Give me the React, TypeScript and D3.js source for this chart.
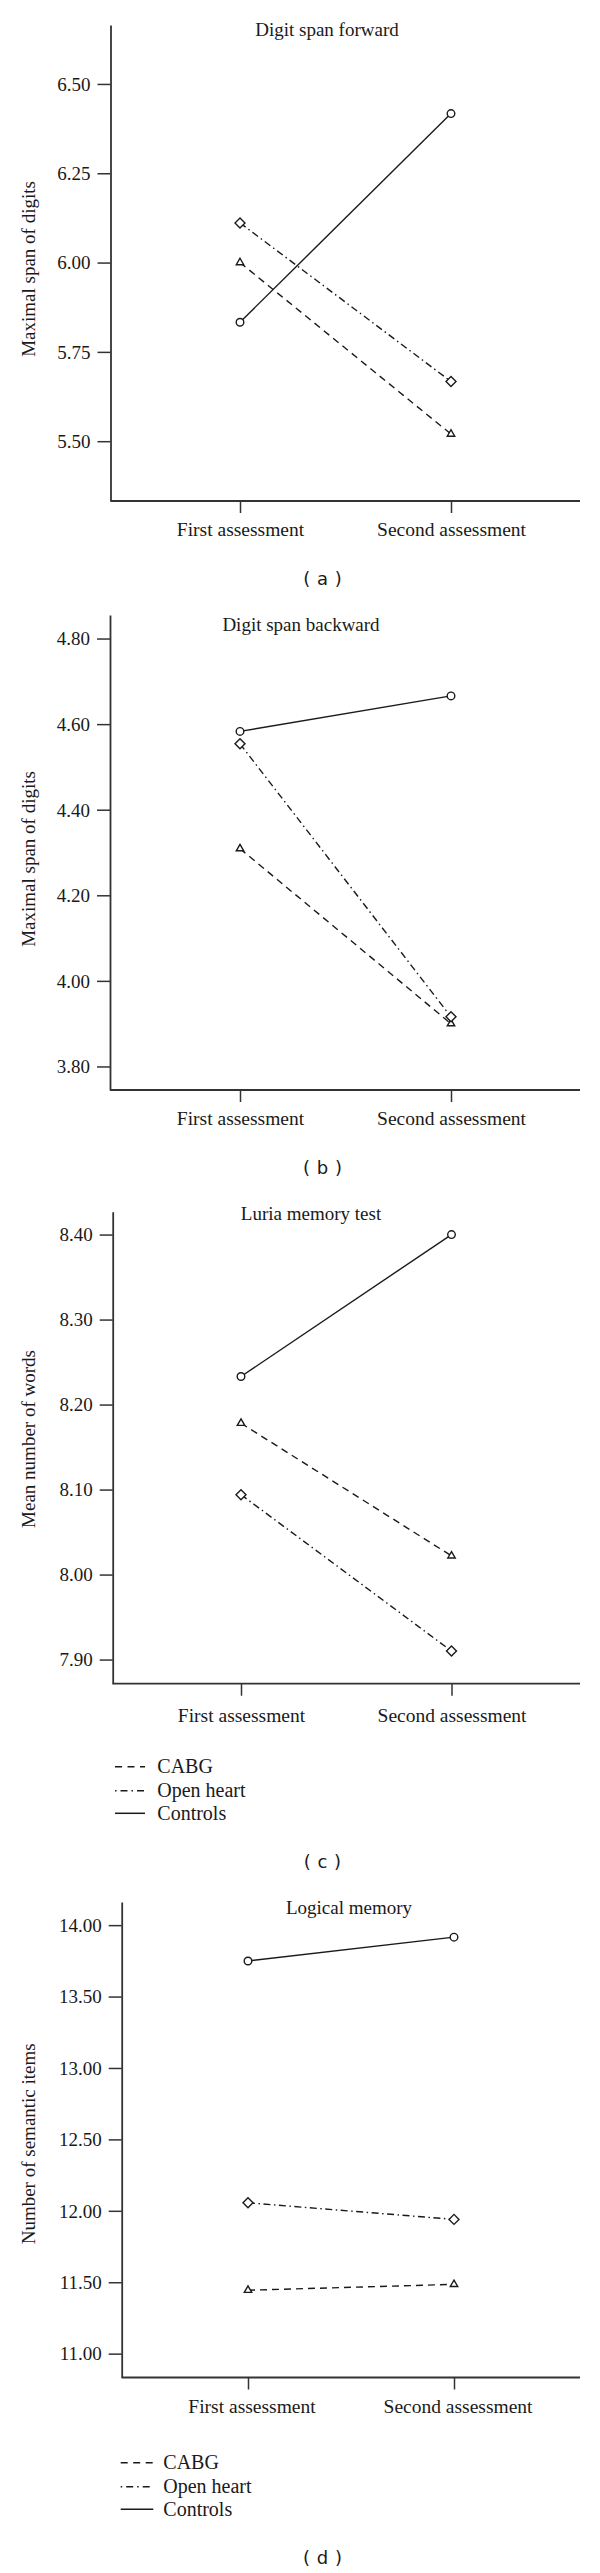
import React, { useEffect, useRef } from "react";
import * as d3 from "d3";

// ---------- data ----------
const categories = ["First assessment", "Second assessment"];
const seriesNames = ["CABG", "Open heart", "Controls"];

const forwardCABG = [6.0, 5.52];
const forwardOpenHeart = [6.111, 5.667];
const forwardControls = [5.833, 6.417];
const forwardTicks = [5.5, 5.75, 6.0, 6.25, 6.5];

const backwardCABG = [4.309, 3.9];
const backwardOpenHeart = [4.554, 3.916];
const backwardControls = [4.583, 4.666];
const backwardTicks = [3.8, 4.0, 4.2, 4.4, 4.6, 4.8];

const luriaCABG = [8.178, 8.022];
const luriaOpenHeart = [8.094, 7.91];
const luriaControls = [8.233, 8.4];
const luriaTicks = [7.9, 8.0, 8.1, 8.2, 8.3, 8.4];

const logicalCABG = [11.444, 11.485];
const logicalOpenHeart = [12.056, 11.94];
const logicalControls = [13.749, 13.916];
const logicalTicks = [11.0, 11.5, 12.0, 12.5, 13.0, 13.5, 14.0];

const titles = ["Digit span forward", "Digit span backward", "Luria memory test", "Logical memory"];
const yLabels = ["Maximal span of digits", "Maximal span of digits", "Mean number of words", "Number of semantic items"];
const captions = ["( a )", "( b )", "( c )", "( d )"];

// ---------- layout / style ----------
const W = 600;
const H = 2573;
const INK = "#1a1a1a";
const AXIS = "#333";
const SERIF = "'Liberation Serif', 'Times New Roman', serif";

const seriesStyle = [
  { dash: "7,5", symbol: "triangle" },
  { dash: "7,3.5,1.5,3.5", symbol: "diamond" },
  { dash: null, symbol: "circle" },
];
const legendDash = ["7,5.5", "1.5,4,7,4", null];

const panels = [
  {
    values: [forwardCABG, forwardOpenHeart, forwardControls], ticks: forwardTicks,
    domain: [5.3326, 6.665], box: { left: 110.5, right: 580, top: 25, bottom: 501 },
    cats: [240, 451], titlePos: [327, 30], yLabelY: 269, xLabelY: 530, xLabelDx: 0,
    captionY: 578.5, legend: null,
  },
  {
    values: [backwardCABG, backwardOpenHeart, backwardControls], ticks: backwardTicks,
    domain: [3.745, 4.855], box: { left: 110, right: 580, top: 615, bottom: 1090 },
    cats: [240, 451], titlePos: [301, 625], yLabelY: 859, xLabelY: 1119, xLabelDx: 0,
    captionY: 1167.5, legend: null,
  },
  {
    values: [luriaCABG, luriaOpenHeart, luriaControls], ticks: luriaTicks,
    domain: [7.8716, 8.4269], box: { left: 112.7, right: 580, top: 1211.7, bottom: 1683.7 },
    cats: [241, 451.5], titlePos: [311, 1214], yLabelY: 1439, xLabelY: 1715.5, xLabelDx: 0,
    captionY: 1862.4, legend: { x0: 115, x1: 145, tx: 157.3, rows: [1766.7, 1790.7, 1813.3] },
  },
  {
    values: [logicalCABG, logicalOpenHeart, logicalControls], ticks: logicalTicks,
    domain: [10.833, 14.162], box: { left: 121.7, right: 580, top: 1902, bottom: 2377.5 },
    cats: [248, 454], titlePos: [349, 1908.7], yLabelY: 2143.8, xLabelY: 2406.7, xLabelDx: 3.5,
    captionY: 2558.3, legend: { x0: 120.7, x1: 153.3, tx: 163.3, rows: [2462.7, 2486.7, 2509.3] },
  },
];

export default function App() {
  const ref = useRef<SVGSVGElement | null>(null);

  useEffect(() => {
    const svg = d3.select(ref.current);
    svg.selectAll("*").remove();

    panels.forEach((p, pi) => {
      const g = svg.append("g");
      const x = d3.scalePoint<string>().domain(categories).range(p.cats as [number, number]);
      const y = d3.scaleLinear().domain(p.domain).range([p.box.bottom, p.box.top]);

      // y axis
      const yAxis = d3
        .axisLeft(y)
        .tickValues(p.ticks)
        .tickFormat(d3.format(".2f") as any)
        .tickSize(13)
        .tickSizeOuter(0)
        .tickPadding(7);
      const yg = g.append("g").attr("transform", `translate(${p.box.left},0)`).call(yAxis as any);
      yg.attr("font-family", SERIF).attr("font-size", 19);
      yg.select(".domain").attr("stroke", AXIS).attr("stroke-width", 1.8);
      yg.selectAll(".tick line").attr("stroke", AXIS).attr("stroke-width", 1.5);
      yg.selectAll(".tick text").attr("fill", INK).attr("dy", null).attr("y", 6.3);

      // x axis
      g.append("line")
        .attr("x1", p.box.left)
        .attr("x2", p.box.right)
        .attr("y1", p.box.bottom)
        .attr("y2", p.box.bottom)
        .attr("stroke", AXIS)
        .attr("stroke-width", 1.8);
      const xAxis = d3.axisBottom(x).tickSize(12).tickSizeOuter(0);
      const xg = g.append("g").attr("transform", `translate(0,${p.box.bottom})`).call(xAxis as any);
      xg.select(".domain").remove();
      xg.attr("font-family", SERIF).attr("font-size", 19.5);
      xg.selectAll(".tick line").attr("stroke", AXIS).attr("stroke-width", 1.5);
      xg.selectAll(".tick text")
        .attr("fill", INK)
        .attr("dy", null)
        .attr("x", p.xLabelDx)
        .attr("y", p.xLabelY + 6.4 - p.box.bottom);

      // title
      g.append("text")
        .attr("x", p.titlePos[0])
        .attr("y", p.titlePos[1] + 5.5)
        .attr("text-anchor", "middle")
        .attr("font-family", SERIF)
        .attr("font-size", 19)
        .attr("fill", INK)
        .text(titles[pi]);

      // y label
      g.append("text")
        .attr("transform", `translate(34.5,${p.yLabelY}) rotate(-90)`)
        .attr("text-anchor", "middle")
        .attr("font-family", SERIF)
        .attr("font-size", 19)
        .attr("fill", INK)
        .text(yLabels[pi]);

      // lines
      const line = d3
        .line<number>()
        .x((_, i) => x(categories[i]) as number)
        .y((d) => y(d));
      p.values.forEach((vals, si) => {
        g.append("path")
          .attr("d", line(vals) as string)
          .attr("fill", "none")
          .attr("stroke", INK)
          .attr("stroke-width", 1.4)
          .attr("stroke-dasharray", seriesStyle[si].dash);
      });

      // markers
      p.values.forEach((vals, si) => {
        const st = seriesStyle[si];
        let sym: any;
        let rot = 0;
        if (st.symbol === "circle") sym = d3.symbol().type(d3.symbolCircle).size(Math.PI * 3.8 * 3.8);
        else if (st.symbol === "diamond") {
          sym = d3.symbol().type(d3.symbolSquare).size(50);
          rot = 45;
        } else sym = d3.symbol().type(d3.symbolTriangle).size(24);
        g.selectAll(null)
          .data(vals)
          .enter()
          .append("path")
          .attr("d", sym() as string)
          .attr("transform", (d, i) => `translate(${x(categories[i])},${y(d)}) rotate(${rot})`)
          .attr("fill", "white")
          .attr("stroke", INK)
          .attr("stroke-width", 1.4);
      });

      // legend
      if (p.legend) {
        const L = p.legend;
        seriesNames.forEach((name, si) => {
          g.append("line")
            .attr("x1", L.x0)
            .attr("x2", L.x1)
            .attr("y1", L.rows[si])
            .attr("y2", L.rows[si])
            .attr("stroke", INK)
            .attr("stroke-width", 1.5)
            .attr("stroke-dasharray", legendDash[si]);
          g.append("text")
            .attr("x", L.tx)
            .attr("y", L.rows[si] + 6.6)
            .attr("font-family", SERIF)
            .attr("font-size", 20)
            .attr("fill", INK)
            .text(name);
        });
      }

      // caption
      g.append("text")
        .attr("x", 322.7)
        .attr("y", p.captionY + 6)
        .attr("text-anchor", "middle")
        .attr("font-family", "'DejaVu Sans', sans-serif")
        .attr("font-size", 18)
        .attr("letter-spacing", 0.5)
        .attr("fill", INK)
        .text(captions[pi]);
    });
  }, []);

  return (
    <svg
      ref={ref}
      width={W}
      height={H}
      viewBox={`0 0 ${W} ${H}`}
      style={{ position: "absolute", left: 0, top: 0, display: "block", background: "white" }}
    />
  );
}
